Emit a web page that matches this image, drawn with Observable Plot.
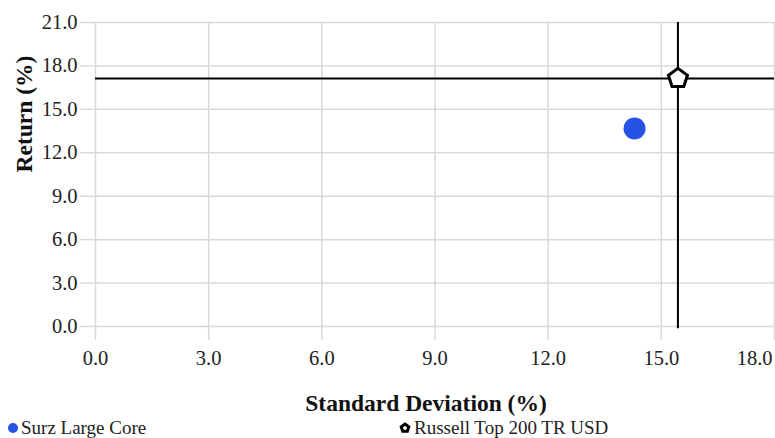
<!DOCTYPE html>
<html>
<head>
<meta charset="utf-8">
<script src="https://cdn.jsdelivr.net/npm/d3@7"></script>
<script src="https://cdn.jsdelivr.net/npm/@observablehq/plot@0.6"></script>
<style>
  html, body { margin: 0; padding: 0; background: #fff; }
  body { width: 775px; height: 438px; overflow: hidden; font-family: "Liberation Serif", "Times New Roman", serif; }
  #legend { position: relative; height: 20px; font-size: 19px; color: #222; font-family: "Liberation Serif", "Times New Roman", serif; }
  #legend .item { position: absolute; top: 0; display: flex; align-items: center; white-space: nowrap; line-height: 20px; }
  #legend svg { margin-right: 3px; }
</style>
</head>
<body>
<div id="chart"></div>
<div id="legend"></div>
<script>
const names = ["Surz Large Core", "Russell Top 200 TR USD"];
const stdDev = [14.29, 15.44];
const returns = [13.68, 17.14];
const xTicks = [0, 3, 6, 9, 12, 15, 18];
const yTicks = [0, 3, 6, 9, 12, 15, 18, 21];
const xLabel = "Standard Deviation (%)";
const yLabel = "Return (%)";

const data = names.map((n, i) => ({name: n, x: stdDev[i], y: returns[i]}));

const pentagon = {
  draw(context, size) {
    const R = Math.sqrt(size / Math.PI);
    for (let k = 0; k < 5; k++) {
      const a = -Math.PI / 2 + k * 2 * Math.PI / 5;
      const px = R * Math.cos(a), py = R * Math.sin(a);
      if (k === 0) context.moveTo(px, py); else context.lineTo(px, py);
    }
    context.closePath();
  }
};

const grid = "#d9d9d9";
const fmt = d3.format(".1f");
const lastX = xTicks[xTicks.length - 1];

const chart = Plot.plot({
  width: 775,
  height: 418,
  marginLeft: 95,
  marginRight: 1,
  marginTop: 22,
  marginBottom: 92,
  style: {fontFamily: "'Liberation Serif', 'Times New Roman', serif", fontSize: "20.5px", color: "#222", background: "#fff"},
  x: {domain: [0, 18]},
  y: {domain: [0, 21]},
  marks: [
    Plot.gridX(xTicks, {stroke: grid, strokeOpacity: 1, strokeWidth: 1.5}),
    Plot.gridY(yTicks, {stroke: grid, strokeOpacity: 1, strokeWidth: 1.5}),
    Plot.axisX({ticks: xTicks, tickFormat: d => d === lastX ? "" : fmt(d), tickSize: 14, tickPadding: 10, stroke: grid, strokeWidth: 1.5, label: null, fill: "#222"}),
    Plot.text([lastX], {x: d => d, text: d => fmt(d), frameAnchor: "bottom", textAnchor: "end", lineAnchor: "top", dy: 24, dx: -2, fill: "#222"}),
    Plot.axisY({ticks: yTicks, tickFormat: fmt, tickSize: 15, tickPadding: 3, stroke: grid, strokeWidth: 1.5, label: null, fill: "#222"}),
    Plot.ruleX([stdDev[1]], {stroke: "#000", strokeWidth: 2, y1: -0.15, y2: 21}),
    Plot.ruleY([returns[1]], {stroke: "#000", strokeWidth: 2}),
    Plot.dot([data[0]], {x: "x", y: "y", r: 11, fill: "#2553e6", stroke: null}),
    Plot.dot([data[1]], {x: "x", y: "y", r: 10, symbol: pentagon, fill: "#fff", stroke: "#000", strokeWidth: 3}),
    Plot.text([xLabel], {frameAnchor: "bottom", dy: 84, dx: -9, fontWeight: "bold", fontSize: 23.5, fill: "#111"}),
    Plot.text([yLabel], {frameAnchor: "left", dx: -71, dy: -2, rotate: -90, fontWeight: "bold", fontSize: 23.5, fill: "#111"})
  ]
});
document.getElementById("chart").appendChild(chart);

const legend = document.getElementById("legend");
const pentPath = (() => { const p = d3.path(); pentagon.draw(p, Math.PI * 16); return p.toString(); })();
const icons = [
  `<svg width="10" height="10" viewBox="-5 -5 10 10"><circle r="5" fill="#2553e6"/></svg>`,
  `<svg width="12" height="12" viewBox="-6 -6 12 12"><path d="${pentPath}" fill="#fff" stroke="#000" stroke-width="3"/></svg>`
];
const lefts = [8, 399];
names.forEach((n, i) => {
  const div = document.createElement("div");
  div.className = "item";
  div.style.left = lefts[i] + "px";
  div.innerHTML = icons[i] + `<span>${n}</span>`;
  legend.appendChild(div);
});
</script>
</body>
</html>
